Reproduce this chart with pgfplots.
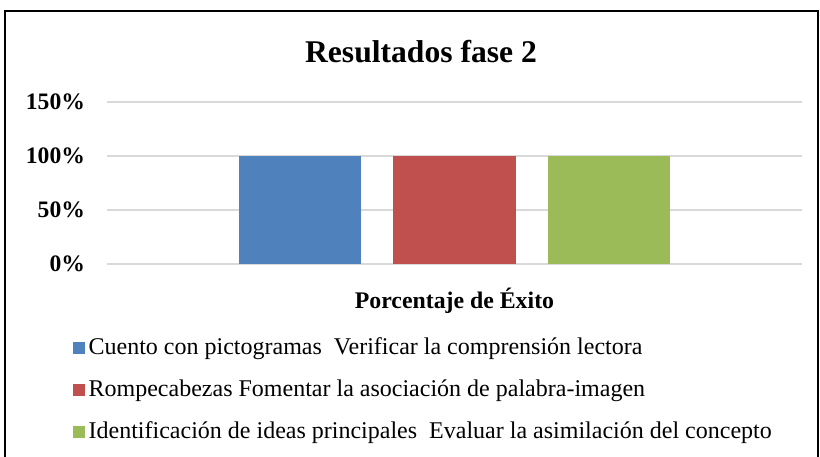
\documentclass[border=0pt]{standalone}
\usepackage{pgfplots}
\pgfplotsset{compat=1.18}
\usepackage{fontspec}
\setmainfont{Liberation Serif}
\definecolor{cblue}{HTML}{4F81BD}
\definecolor{cred}{HTML}{C0504D}
\definecolor{cgreen}{HTML}{9BBB59}
\begin{document}
\begin{tikzpicture}
\useasboundingbox (0pt,0pt) rectangle (410pt,228pt);
\draw[line width=1pt] (2.5pt,-10pt) -- (2.5pt,222.5pt) -- (409pt,222.5pt) -- (409pt,-10pt);
\node[font=\fontsize{15.8}{18}\selectfont\bfseries] at (210.5pt,202pt) {Resultados fase 2};
\begin{axis}[
  at={(53.5pt,96pt)}, anchor=south west,
  scale only axis, width=347.5pt, height=81pt,
  ybar=16pt, bar width=61pt,
  xmin=-1, xmax=1,
  ymin=0, ymax=150,
  ytick={0,50,100,150},
  yticklabels={0\%,50\%,100\%,150\%},
  xtick={0}, xticklabels={Porcentaje de Éxito},
  axis line style={draw=none},
  tick style={draw=none},
  ymajorgrids,
  grid style={color=black!15, line width=0.8pt},
  yticklabel style={font=\fontsize{11.8}{13}\selectfont\bfseries, xshift=-7.5pt},
  xticklabel style={font=\fontsize{11.9}{13}\selectfont\bfseries, yshift=-4pt},
  legend style={at={(-0.05,-0.43)}, anchor=north west, draw=none,
    font=\fontsize{12}{14}\selectfont, row sep=7pt, inner sep=0pt},
  legend cell align=left,
  legend image code/.code={\fill[#1] (0pt,-3pt) rectangle (6pt,3pt);},
]
\addplot[fill=cblue, draw=none] coordinates {(0,100)};
\addplot[fill=cred, draw=none] coordinates {(0,100)};
\addplot[fill=cgreen, draw=none] coordinates {(0,100)};
\legend{Cuento con pictogramas\ \ Verificar la comprensión lectora,
Rompecabezas Fomentar la asociación de palabra-imagen,
Identificación de ideas principales\ \ Evaluar la asimilación del concepto}
\end{axis}
\end{tikzpicture}
\end{document}
